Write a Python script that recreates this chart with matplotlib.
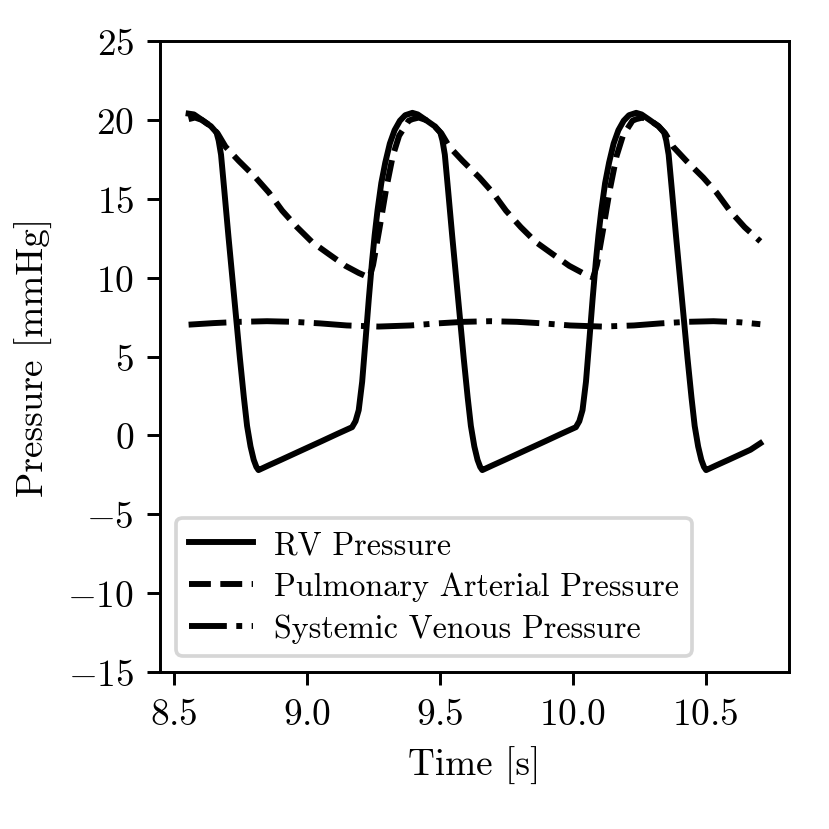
import matplotlib
matplotlib.use("Agg")
import matplotlib.pyplot as plt

plt.rcParams['font.family'] = 'serif'
plt.rcParams['font.serif'] = ['cmr10']
plt.rcParams['mathtext.fontset'] = 'cm'
plt.rcParams['axes.formatter.use_mathtext'] = True
plt.rcParams['font.size'] = 10.1

# RV pressure (time [s], pressure [mmHg])
rv_time = [8.555, 8.575, 8.601, 8.639, 8.660, 8.668, 8.677, 8.689, 8.705, 8.719, 8.733, 8.748, 8.763, 8.775, 8.788, 8.800, 8.810, 8.818,
           8.855, 8.905, 8.985, 9.055, 9.115, 9.170, 9.183, 9.195, 9.208, 9.221, 9.233, 9.245, 9.255, 9.266, 9.280, 9.295, 9.312, 9.330, 9.350, 9.370,
           9.397, 9.417, 9.443, 9.481, 9.502, 9.510, 9.519, 9.531, 9.547, 9.561, 9.575, 9.590, 9.605, 9.617, 9.630, 9.642, 9.652, 9.660,
           9.697, 9.747, 9.827, 9.897, 9.957, 10.012, 10.025, 10.037, 10.050, 10.063, 10.075, 10.087, 10.097, 10.108, 10.122, 10.137, 10.154, 10.172, 10.192, 10.212,
           10.239, 10.259, 10.285, 10.323, 10.344, 10.352, 10.361, 10.373, 10.389, 10.403, 10.417, 10.432, 10.447, 10.459, 10.472, 10.484, 10.494, 10.502,
           10.539, 10.589, 10.669, 10.706]
rv_pressure = [20.40, 20.35, 20.05, 19.60, 19.20, 18.70, 17.80, 15.60, 12.60, 10.10, 7.60, 4.90, 2.40, 0.60, -0.70, -1.55, -2.00, -2.20,
               -1.91, -1.53, -0.91, -0.37, 0.10, 0.52, 0.90, 1.60, 3.40, 6.10, 8.65, 11.00, 12.70, 14.30, 16.00, 17.30, 18.50, 19.35, 19.95, 20.30,
               20.45, 20.35, 20.05, 19.60, 19.20, 18.70, 17.80, 15.60, 12.60, 10.10, 7.60, 4.90, 2.40, 0.60, -0.70, -1.55, -2.00, -2.20,
               -1.91, -1.53, -0.91, -0.37, 0.10, 0.52, 0.90, 1.60, 3.40, 6.10, 8.65, 11.00, 12.70, 14.30, 16.00, 17.30, 18.50, 19.35, 19.95, 20.30,
               20.45, 20.35, 20.05, 19.60, 19.20, 18.70, 17.80, 15.60, 12.60, 10.10, 7.60, 4.90, 2.40, 0.60, -0.70, -1.55, -2.00, -2.20,
               -1.91, -1.53, -0.91, -0.50]

# Pulmonary arterial pressure
pa_time = [8.555, 8.579, 8.605, 8.639, 8.664, 8.694, 8.744, 8.807, 8.857, 8.907, 8.963, 9.020, 9.082, 9.145, 9.195, 9.235,
           9.249, 9.273, 9.298, 9.323, 9.347, 9.383,
           9.397, 9.421, 9.447, 9.481, 9.506, 9.536, 9.586, 9.649, 9.699, 9.749, 9.805, 9.862, 9.924, 9.987, 10.037, 10.077,
           10.091, 10.115, 10.140, 10.165, 10.189, 10.225,
           10.239, 10.263, 10.289, 10.323, 10.348, 10.378, 10.428, 10.491, 10.541, 10.591, 10.647, 10.706]
pa_pressure = [20.05, 20.15, 20.00, 19.60, 19.15, 18.30, 17.40, 16.35, 15.40, 14.25, 13.20, 12.25, 11.50, 10.75, 10.30, 10.00,
               10.80, 13.10, 15.60, 17.70, 19.00, 19.95,
               20.05, 20.15, 20.00, 19.60, 19.15, 18.30, 17.40, 16.35, 15.40, 14.25, 13.20, 12.25, 11.50, 10.75, 10.30, 10.00,
               10.80, 13.10, 15.60, 17.70, 19.00, 19.95,
               20.05, 20.15, 20.00, 19.60, 19.15, 18.30, 17.40, 16.35, 15.40, 14.25, 13.20, 12.30]

# Systemic venous pressure
sv_time = [8.555, 8.65, 8.75, 8.85, 8.95, 9.05, 9.15, 9.27, 9.39, 9.49, 9.59, 9.69, 9.79, 9.89, 9.99, 10.11,
           10.23, 10.33, 10.43, 10.53, 10.63, 10.706]
sv_pressure = [7.02, 7.12, 7.20, 7.24, 7.20, 7.10, 6.97, 6.90, 6.97, 7.10, 7.20, 7.24, 7.20, 7.10, 6.97, 6.90,
               6.97, 7.10, 7.20, 7.24, 7.17, 7.05]

labels = ['RV Pressure', 'Pulmonary Arterial Pressure', 'Systemic Venous Pressure']
x_label = 'Time [s]'
y_label = 'Pressure [mmHg]'
y_limits = (-15, 25)

fig = plt.figure(figsize=(3.12, 3.12), dpi=266)
ax = fig.add_axes([0.1928, 0.1892, 0.7578, 0.7602])
ax.plot(rv_time, rv_pressure, color='black', linestyle='-', linewidth=1.6, label=labels[0])
ax.plot(pa_time, pa_pressure, color='black', linestyle='--', linewidth=1.6, label=labels[1])
ax.plot(sv_time, sv_pressure, color='black', linestyle='-.', linewidth=1.6, label=labels[2])
ax.set_ylim(*y_limits)
ax.set_yticks(range(-15, 26, 5))
ax.set_xticks([8.5, 9.0, 9.5, 10.0, 10.5])
ax.set_xlabel(x_label)
ax.set_ylabel(y_label)
ax.legend(loc='lower left', fontsize=8.7, labelspacing=0.38, handletextpad=0.65)
fig.savefig('out.png', dpi=266)
